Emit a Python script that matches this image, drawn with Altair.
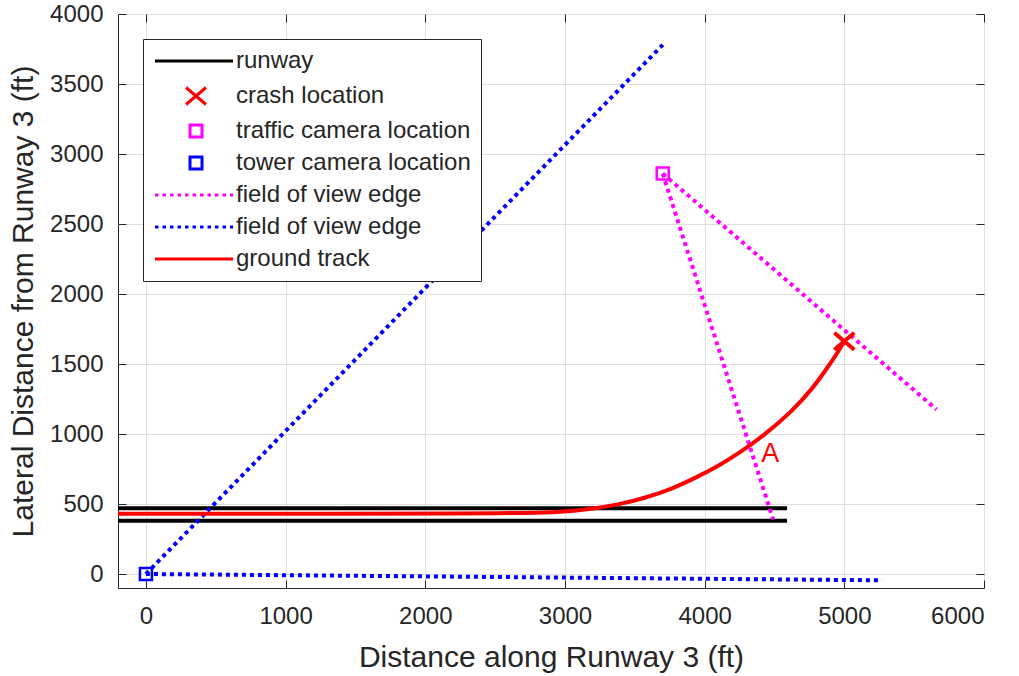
import altair as alt
import pandas as pd

FONT = "Liberation Sans"
TXT = "#262626"

# ---------------- data ----------------
x_ticks = [0, 1000, 2000, 3000, 4000, 5000, 6000]
y_ticks = [0, 500, 1000, 1500, 2000, 2500, 3000, 3500, 4000]

runway_x = [-200, 4590]
runway_upper_y = [470, 470]
runway_lower_y = [380, 380]

track_x = [-200, 2600, 2960, 3195, 3386, 3576, 3767, 3957, 4100, 4243, 4433, 4624, 4767, 4886, 4957, 5000]
track_y = [430, 431, 441, 465, 496, 544, 608, 698, 774, 860, 996, 1162, 1317, 1483, 1590, 1662]

crash_xy = [5000, 1662]
traffic_cam_xy = [3700, 2860]
tower_cam_xy = [0, 0]

fov_traffic_a_x = [3700, 5660]
fov_traffic_a_y = [2860, 1175]
fov_traffic_b_x = [3700, 4490]
fov_traffic_b_y = [2860, 390]
fov_tower_a_x = [0, 3700]
fov_tower_a_y = [0, 3780]
fov_tower_b_x = [0, 5270]
fov_tower_b_y = [0, -45]

label_A = ["A", 4470, 855]

legend_keys = ["runway", "crash location", "traffic camera location",
               "tower camera location", "field of view edge",
               "field of view edge (tower)", "ground track"]
legend_colors = ["#000000", "#ff0000", "#ff00ff", "#0000ff",
                 "#ff00ff", "#0000ff", "#ff0000"]

# ---------------- legend symbol shapes (unit = 5 px) ----------------
solid = "M-8.2,0H7.4"
cross = "M-2,-1.7L2,1.7M-2,1.7L2,-1.7"
square = "M-1.2,-1.2H1.2V1.2H-1.2Z"
dots = []
p = -8.2
while p < 7.4:
    e = min(p + 0.7, 7.4)
    dots.append(f"M{p:.2f},0H{e:.2f}")
    p += 1.5
dotted = "".join(dots)
legend_shapes = [solid, cross, square, square, dotted, dotted, solid]

# ---------------- tables ----------------
runway_df = pd.DataFrame({
    "x": runway_x + runway_x,
    "y": runway_upper_y + runway_lower_y,
    "line": ["upper"] * 2 + ["lower"] * 2,
})
track_df = pd.DataFrame({"x": track_x, "y": track_y})
fov_df = pd.DataFrame({
    "x": fov_traffic_a_x + fov_traffic_b_x + fov_tower_a_x + fov_tower_b_x,
    "y": fov_traffic_a_y + fov_traffic_b_y + fov_tower_a_y + fov_tower_b_y,
    "edge": ["ta"] * 2 + ["tb"] * 2 + ["wa"] * 2 + ["wb"] * 2,
    "col": ["#ff00ff"] * 4 + ["#0000ff"] * 4,
})
pts_df = pd.DataFrame({
    "x": [crash_xy[0], traffic_cam_xy[0], tower_cam_xy[0]],
    "y": [crash_xy[1], traffic_cam_xy[1], tower_cam_xy[1]],
    "series": ["crash location", "traffic camera location", "tower camera location"],
    "sw": [4, 2.5, 2.5],
})
text_df = pd.DataFrame({"t": [label_A[0]], "x": [label_A[1]], "y": [label_A[2]]})

xscale = alt.Scale(domain=[-200, 6000], nice=False, zero=False)
yscale = alt.Scale(domain=[-100, 4000], nice=False, zero=False)

main_x_axis = alt.Axis(
    orient="bottom", values=x_ticks, format="d", offset=-8, tickSize=8, tickColor=TXT,
    domain=False, grid=True, gridColor="#dfdfdf", gridWidth=1,
    labelFont=FONT, labelFontSize=24, labelColor=TXT, labelPadding=16,
    title="Distance along Runway 3 (ft)", titleFont=FONT, titleFontSize=30,
    titleFontWeight="normal", titleColor=TXT, titlePadding=14,
)
main_y_axis = alt.Axis(
    orient="left", values=y_ticks, format="d", offset=-8, tickSize=8, tickColor=TXT,
    domain=False, grid=True, gridColor="#dfdfdf", gridWidth=1,
    labelFont=FONT, labelFontSize=24, labelColor=TXT, labelPadding=15,
    title="Lateral Distance from Runway 3 (ft)", titleFont=FONT, titleFontSize=30,
    titleFontWeight="normal", titleColor=TXT, titlePadding=11,
)
top_axis = alt.Axis(orient="top", values=x_ticks, offset=-8, tickSize=8, tickColor=TXT,
                    domain=False, grid=False, labels=False, title=None)
right_axis = alt.Axis(orient="right", values=y_ticks, offset=-8, tickSize=8, tickColor=TXT,
                      domain=False, grid=False, labels=False, title=None)

runway = alt.Chart(runway_df).mark_line(color="#000000", strokeWidth=4, clip=True).encode(
    x=alt.X("x:Q", scale=xscale, axis=main_x_axis),
    y=alt.Y("y:Q", scale=yscale, axis=main_y_axis),
    detail="line:N",
)

fov = alt.Chart(fov_df).mark_line(strokeWidth=4, strokeDash=[4, 4], clip=True).encode(
    x=alt.X("x:Q", scale=xscale, axis=None),
    y=alt.Y("y:Q", scale=yscale, axis=None),
    detail="edge:N",
    stroke=alt.Stroke("col:N", scale=None, legend=None),
)

track = alt.Chart(track_df).mark_line(color="#ff0000", strokeWidth=4, interpolate="basis", clip=True).encode(
    x=alt.X("x:Q", scale=xscale, axis=None),
    y=alt.Y("y:Q", scale=yscale, axis=None),
)

legend = alt.Legend(
    orient="none", legendX=25, legendY=25, title=None, padding=10,
    symbolSize=100, symbolStrokeWidth=3, symbolOffset=31, labelOffset=28,
    labelFont=FONT, labelFontSize=24, labelColor=TXT, labelLimit=0,
    rowPadding=8, strokeColor=TXT, fillColor="white",
    labelExpr="replace(datum.label, ' (tower)', '')",
)
pts = alt.Chart(pts_df).mark_point(filled=False, size=100, opacity=1, clip=True).encode(
    x=alt.X("x:Q", scale=xscale, axis=None),
    y=alt.Y("y:Q", scale=yscale, axis=None),
    color=alt.Color("series:N", scale=alt.Scale(domain=legend_keys, range=legend_colors), legend=legend),
    shape=alt.Shape("series:N", scale=alt.Scale(domain=legend_keys, range=legend_shapes), legend=legend),
    strokeWidth=alt.StrokeWidth("sw:Q", scale=None, legend=None),
)

text = alt.Chart(text_df).mark_text(color="#ff0000", font=FONT, fontSize=27, align="center", baseline="middle").encode(
    x=alt.X("x:Q", scale=xscale, axis=top_axis),
    y=alt.Y("y:Q", scale=yscale, axis=right_axis),
    text="t:N",
)

chart = alt.layer(runway, fov, track, pts, text).resolve_axis(
    x="independent", y="independent"
).properties(
    width=866, height=574,
    autosize=alt.AutoSizeParams(type="none"),
    padding={"left": 118, "top": 14, "right": 35, "bottom": 88},
    background="white",
).configure_view(stroke=TXT, strokeWidth=1, fill="white")

chart.save("out.html", embed_options={"renderer": "svg", "actions": False})
